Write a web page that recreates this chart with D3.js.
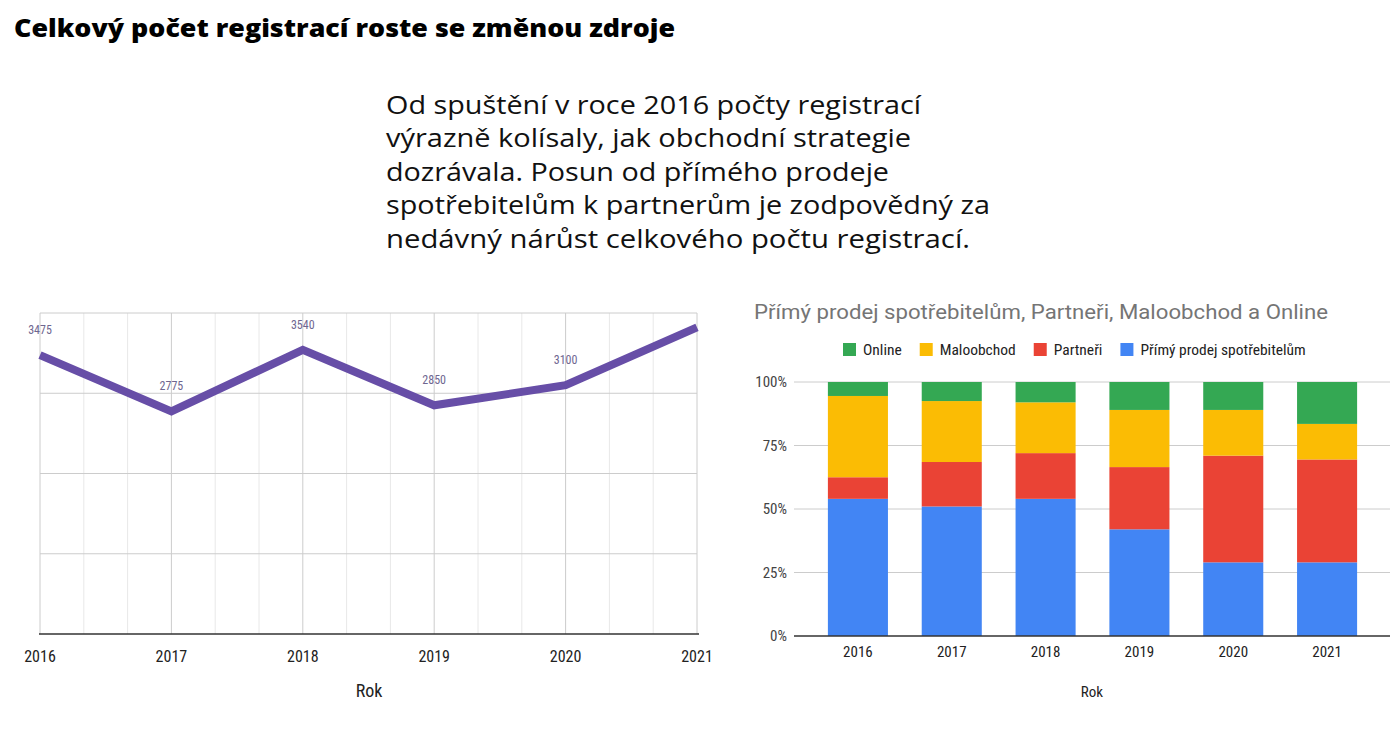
<!DOCTYPE html>
<html>
<head>
<meta charset="utf-8">
<script src="https://cdn.jsdelivr.net/npm/d3@7"></script>
<style>
body { margin: 0; background: #fff; }
svg { display: block; }
.cond { font-family: "Liberation Sans Narrow", "Roboto Condensed", Roboto, sans-serif; }
</style>
</head>
<body>
<svg id="chart" width="1395" height="752"></svg>
<script>
var years = [2016, 2017, 2018, 2019, 2020, 2021];
var totalRegistrations = [3475, 2775, 3540, 2850, 3100, 3820];
var labelledPoints = [true, true, true, true, true, false];
var registrationTicks = [1000, 2000, 3000, 4000];

var seriesKeys = ["Přímý prodej spotřebitelům", "Partneři", "Maloobchod", "Online"];
var seriesColors = ["#4285f4", "#ea4335", "#fbbc04", "#34a853"];
var shareDirect = [0.54, 0.51, 0.54, 0.42, 0.29, 0.29];
var sharePartners = [0.085, 0.175, 0.18, 0.245, 0.42, 0.405];
var shareRetail = [0.32, 0.24, 0.20, 0.225, 0.18, 0.14];
var shareOnline = [0.055, 0.075, 0.08, 0.11, 0.11, 0.165];
var legendOrder = ["Online", "Maloobchod", "Partneři", "Přímý prodej spotřebitelům"];
var percentTicks = [0, 0.25, 0.5, 0.75, 1];

var titleText = "Celkový počet registrací roste se změnou zdroje";
var noteLines = [
	"Od spuštění v roce 2016 počty registrací",
	"výrazně kolísaly, jak obchodní strategie",
	"dozrávala. Posun od přímého prodeje",
	"spotřebitelům k partnerům je zodpovědný za",
	"nedávný nárůst celkového počtu registrací."
];
var noteWidths = [535, 525, 503, 604, 584];
var barTitle = "Přímý prodej spotřebitelům, Partneři, Maloobchod a Online";

var svg = d3.select("#chart");

// headline + note
svg.append("text")
	.attr("x", 14).attr("y", 37)
	.attr("textLength", 661).attr("lengthAdjust", "spacingAndGlyphs")
	.style("font-family", "'Open Sans', 'Noto Sans', sans-serif")
	.style("font-weight", 800).style("font-size", "25px").style("fill", "#000")
	.text(titleText);

svg.selectAll("text.note")
	.data(noteLines)
	.enter().append("text")
	.attr("class", "note")
	.attr("x", 386)
	.attr("y", function(d, i) { return 114 + i * 33.4; })
	.attr("textLength", function(d, i) { return noteWidths[i]; })
	.attr("lengthAdjust", "spacingAndGlyphs")
	.style("font-family", "'Open Sans', 'Noto Sans', sans-serif")
	.style("font-size", "25px").style("fill", "#111")
	.text(function(d) { return d; });

// ---- left: line chart
var xLine = d3.scaleLinear().domain([2016, 2021]).range([40, 697]);
var yLine = d3.scaleLinear().domain([0, 4000]).range([634, 313]);

var lineG = svg.append("g");

var minorTicks = d3.range(0, 16).map(function(k) { return 2016 + k / 3; });
lineG.selectAll("line.vgrid")
	.data(minorTicks)
	.enter().append("line")
	.attr("x1", function(d) { return xLine(d); })
	.attr("x2", function(d) { return xLine(d); })
	.attr("y1", yLine(4000)).attr("y2", yLine(0))
	.style("stroke", function(d, i) { return i % 3 == 0 ? "#cccccc" : "#e8e8e8"; })
	.style("stroke-width", 1);

lineG.selectAll("line.hgrid")
	.data(registrationTicks)
	.enter().append("line")
	.attr("x1", xLine(2016)).attr("x2", xLine(2021))
	.attr("y1", function(d) { return yLine(d); })
	.attr("y2", function(d) { return yLine(d); })
	.style("stroke", "#cccccc");

lineG.append("line")
	.attr("x1", xLine(2016) - 1).attr("x2", xLine(2021) + 2)
	.attr("y1", yLine(0)).attr("y2", yLine(0))
	.style("stroke", "#333").style("stroke-width", 1.6);

var lineData = years.map(function(y, i) { return {year: y, value: totalRegistrations[i], labelled: labelledPoints[i]}; });

lineG.append("path")
	.datum(lineData)
	.attr("d", d3.line().x(function(d) { return xLine(d.year); }).y(function(d) { return yLine(d.value); }))
	.style("fill", "none").style("stroke", "#674ea7").style("stroke-width", 8);

lineG.selectAll("text.pt")
	.data(lineData.filter(function(d) { return d.labelled; }))
	.enter().append("text")
	.attr("class", "cond")
	.attr("x", function(d) { return xLine(d.year); })
	.attr("y", function(d) { return yLine(d.value) - 21; })
	.attr("text-anchor", "middle")
	.style("font-size", "12px").style("fill", "#6e6690")
	.text(function(d) { return d.value; });

lineG.selectAll("text.xl")
	.data(years)
	.enter().append("text")
	.attr("class", "cond")
	.attr("x", function(d) { return xLine(d); })
	.attr("y", 662)
	.attr("text-anchor", "middle")
	.style("font-size", "16px").style("fill", "#222")
	.text(function(d) { return d; });

lineG.append("text")
	.attr("class", "cond")
	.attr("x", 369).attr("y", 697)
	.attr("text-anchor", "middle")
	.style("font-size", "18px").style("fill", "#222")
	.text("Rok");

// ---- right: stacked 100% bars
var xBar = d3.scaleBand().domain(years).range([811, 1374]).paddingInner(0.36).paddingOuter(0.18);
var yBar = d3.scaleLinear().domain([0, 1]).range([636, 382]);

var barG = svg.append("g");

barG.append("text")
	.attr("x", 754).attr("y", 319)
	.attr("textLength", 574).attr("lengthAdjust", "spacingAndGlyphs")
	.style("font-family", "Roboto, sans-serif")
	.style("font-size", "21px").style("fill", "#757575")
	.text(barTitle);

barG.selectAll("line.pgrid")
	.data(percentTicks.slice(1))
	.enter().append("line")
	.attr("x1", 794).attr("x2", 1390)
	.attr("y1", function(d) { return yBar(d); })
	.attr("y2", function(d) { return yBar(d); })
	.style("stroke", "#cccccc");

barG.selectAll("text.pl")
	.data(percentTicks)
	.enter().append("text")
	.attr("class", "cond")
	.attr("x", 787)
	.attr("y", function(d) { return yBar(d) + 5; })
	.attr("text-anchor", "end")
	.style("font-size", "15px").style("fill", "#444")
	.text(function(d) { return d3.format(".0%")(d); });

var shareRows = years.map(function(y, i) {
	var row = {year: y};
	row[seriesKeys[0]] = shareDirect[i];
	row[seriesKeys[1]] = sharePartners[i];
	row[seriesKeys[2]] = shareRetail[i];
	row[seriesKeys[3]] = shareOnline[i];
	return row;
});

var stacked = d3.stack().keys(seriesKeys)(shareRows);

barG.selectAll("g.series")
	.data(stacked)
	.enter().append("g")
	.style("fill", function(d, i) { return seriesColors[i]; })
	.selectAll("rect")
	.data(function(d) { return d; })
	.enter().append("rect")
	.attr("x", function(d) { return xBar(d.data.year); })
	.attr("width", xBar.bandwidth())
	.attr("y", function(d) { return yBar(d[1]); })
	.attr("height", function(d) { return yBar(d[0]) - yBar(d[1]); });

barG.append("line")
	.attr("x1", 794).attr("x2", 1390)
	.attr("y1", yBar(0)).attr("y2", yBar(0))
	.style("stroke", "#333").style("stroke-width", 1.4);

barG.selectAll("text.bx")
	.data(years)
	.enter().append("text")
	.attr("class", "cond")
	.attr("x", function(d) { return xBar(d) + xBar.bandwidth() / 2; })
	.attr("y", 657)
	.attr("text-anchor", "middle")
	.style("font-size", "15px").style("fill", "#222")
	.text(function(d) { return d; });

barG.append("text")
	.attr("class", "cond")
	.attr("x", 1092).attr("y", 697)
	.attr("text-anchor", "middle")
	.style("font-size", "15px").style("fill", "#222")
	.text("Rok");

// legend, laid out from measured text widths
var legendG = barG.append("g");
var legendX = 843;
legendOrder.forEach(function(name) {
	var idx = seriesKeys.indexOf(name);
	legendG.append("rect")
		.attr("x", legendX).attr("y", 343)
		.attr("width", 13).attr("height", 13)
		.style("fill", seriesColors[idx]);
	var t = legendG.append("text")
		.attr("class", "cond")
		.attr("x", legendX + 20).attr("y", 355)
		.style("font-size", "15.5px").style("fill", "#222")
		.text(name);
	legendX += 20 + t.node().getComputedTextLength() + 18;
});
</script>
</body>
</html>
